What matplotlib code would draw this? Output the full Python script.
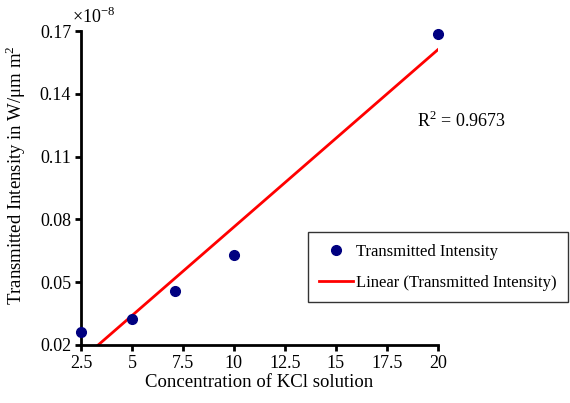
import numpy as np
import matplotlib.pyplot as plt

plt.rcParams['font.family'] = ['Liberation Serif', 'DejaVu Serif']
plt.rcParams['mathtext.fontset'] = 'custom'
plt.rcParams['mathtext.rm'] = 'Liberation Serif'

# concentration of KCl vs transmitted intensity (x1e-8 W/um m^2)
conc = [2.5, 5, 7.1, 10, 20]
intensity = [0.026, 0.0325, 0.046, 0.063, 0.1685]
xticks = [2.5, 5, 7.5, 10, 12.5, 15, 17.5, 20]
xticklabels = ['2.5', '5', '7.5', '10', '12.5', '15', '17.5', '20']
yticks = [0.02, 0.05, 0.08, 0.11, 0.14, 0.17]

fig = plt.figure(figsize=(5.7, 4.03), dpi=100)
ax = fig.add_axes([0.142, 0.144, 0.626, 0.779])

# linear trendline
slope, icpt = np.polyfit(conc, intensity, 1)
xs = np.array([2.5, 20])
ax.plot(xs, slope * xs + icpt, color='#ff0000', lw=2, label='Linear (Transmitted Intensity)', zorder=2)
ax.plot(conc, intensity, 'o', color='#000080', ms=7, label='Transmitted Intensity',
        zorder=3, clip_on=False)

ax.set_xlim(2.5, 20)
ax.set_ylim(0.02, 0.17)
ax.set_xticks(xticks)
ax.set_xticklabels(xticklabels)
ax.set_yticks(yticks)
ax.set_yticklabels(['%.2f' % v for v in yticks])
ax.tick_params(direction='out', length=4, width=2, labelsize=13, pad=3)
for s in ['top', 'right']:
    ax.spines[s].set_visible(False)
for s in ['left', 'bottom']:
    ax.spines[s].set_linewidth(2)

ax.set_xlabel('Concentration of KCl solution', fontsize=13.5, labelpad=2)
ax.set_ylabel('Transmitted Intensity in W/\u03bcm m$^2$', fontsize=13.5)
ax.yaxis.set_label_coords(-0.148, 0.54)

fig.text(0.127, 0.942, '\u00d710$^{-8}$', fontsize=13)
fig.text(0.732, 0.685, 'R$^2$ = 0.9673', fontsize=13)

h, l = ax.get_legend_handles_labels()
leg = ax.legend(h[::-1], l[::-1], loc='upper right', bbox_to_anchor=(0.997, 0.424),
                bbox_transform=fig.transFigure, fontsize=12, frameon=True, fancybox=False,
                handlelength=2.0, handletextpad=0.2, borderpad=0.7, labelspacing=0.9,
                borderaxespad=0)
leg.get_frame().set_edgecolor('black')
leg.get_frame().set_linewidth(1)

fig.savefig('out.png', dpi=100)
